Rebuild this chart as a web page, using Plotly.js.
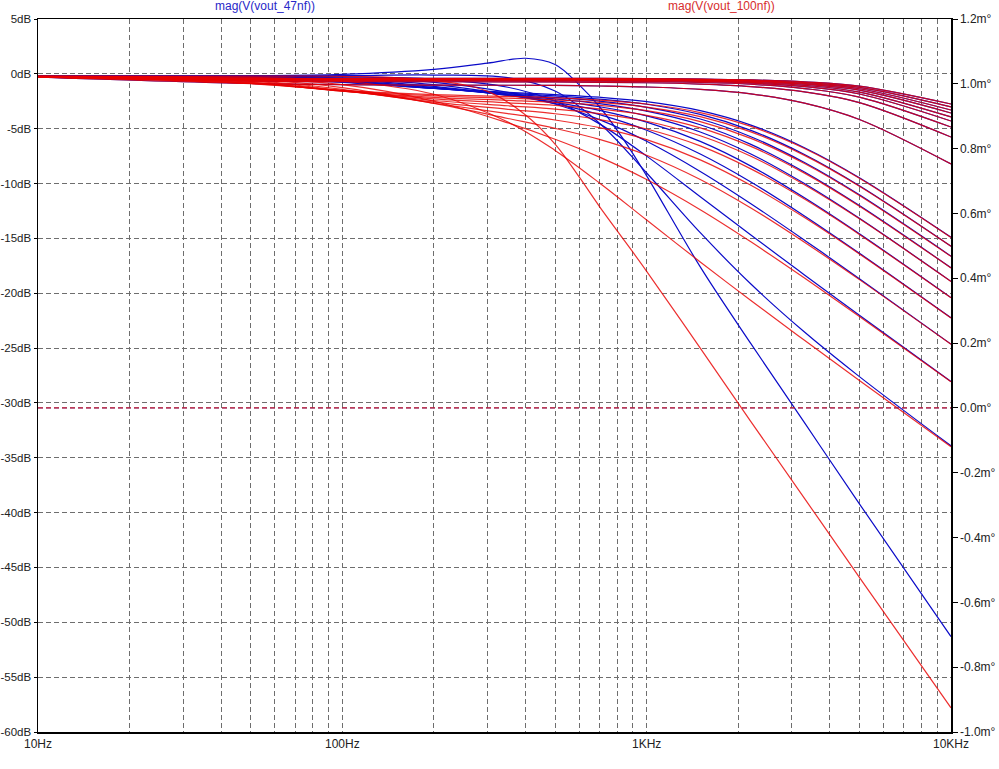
<!DOCTYPE html>
<html><head><meta charset="utf-8">
<script src="https://cdn.plot.ly/plotly-3.0.1.min.js"></script>
<style>html,body{margin:0;padding:0;background:#fff;} #chart{width:999px;height:769px;}</style>
</head><body><div id="chart"></div>
<script>
// Frequency grids (Hz)
const freq   = [10, 50, 100, 200, 350, 500, 700, 1000, 1500, 2200, 3300, 5000, 10000];
const freqS0 = [10, 50, 100, 200, 300, 400, 500, 600, 700, 850, 1000, 1500, 2200, 3300, 5000, 10000];

// mag(V(vout_47nf)) in dB, one array per step
const blue_s0  = [-0.21, -0.17, -0.05, 0.40, 0.98, 1.42, 0.85, -1.00, -3.00, -6.20, -9.30, -17.60, -24.60, -31.80, -39.20, -51.30];
const blue_s1  = [-0.21, -0.20, -0.17, -0.11, -0.35, -1.57, -4.50, -9.04, -14.48, -19.16, -23.54, -27.60, -33.91];
const blue_s2  = [-0.21, -0.22, -0.27, -0.48, -1.22, -2.49, -4.56, -7.50, -11.20, -14.70, -18.33, -22.00, -28.05];
const blue_s3  = [-0.21, -0.25, -0.36, -0.77, -1.69, -2.75, -4.17, -6.15, -8.90, -11.84, -15.16, -18.67, -24.64];
const blue_s4  = [-0.21, -0.27, -0.44, -0.99, -1.90, -2.72, -3.72, -5.14, -7.31, -9.86, -12.95, -16.35, -22.24];
const blue_s5  = [-0.21, -0.29, -0.52, -1.14, -1.97, -2.60, -3.33, -4.40, -6.16, -8.41, -11.30, -14.58, -20.40];
const blue_s6  = [-0.21, -0.32, -0.59, -1.24, -1.95, -2.44, -3.00, -3.83, -5.30, -7.30, -10.00, -13.17, -18.92];
const blue_s7  = [-0.21, -0.34, -0.64, -1.29, -1.90, -2.28, -2.72, -3.40, -4.64, -6.43, -8.95, -12.01, -17.68];
const blue_s8  = [-0.21, -0.36, -0.69, -1.32, -1.83, -2.14, -2.49, -3.05, -4.12, -5.73, -8.08, -11.03, -16.62];
const blue_s9  = [-0.22, -0.38, -0.73, -1.33, -1.76, -2.01, -2.30, -2.77, -3.70, -5.15, -7.35, -10.20, -15.71];
const blue_s10 = [-0.22, -0.39, -0.77, -1.32, -1.68, -1.89, -2.13, -2.54, -3.36, -4.67, -6.73, -9.47, -14.90];

// mag(V(vout_100nf)) in dB, one array per step
const red_s0  = [-0.22, -0.21, -0.23, -0.60, -1.60, -3.75, -6.40, -9.40, -12.10, -15.30, -18.00, -25.00, -31.70, -38.70, -45.90, -57.80];
const red_s1  = [-0.21, -0.32, -0.65, -1.86, -4.39, -6.98, -9.95, -13.33, -17.15, -20.66, -24.29, -27.95, -34.00];
const red_s2  = [-0.22, -0.43, -0.99, -2.50, -4.47, -5.96, -7.59, -9.63, -12.38, -15.31, -18.62, -22.12, -28.08];
const red_s3  = [-0.23, -0.52, -1.25, -2.70, -4.07, -4.97, -5.98, -7.42, -9.63, -12.23, -15.35, -18.76, -24.66];
const red_s4  = [-0.23, -0.61, -1.41, -2.68, -3.62, -4.21, -4.91, -6.00, -7.84, -10.16, -13.10, -16.42, -22.26];
const red_s5  = [-0.24, -0.68, -1.51, -2.57, -3.23, -3.64, -4.17, -5.03, -6.57, -8.66, -11.42, -14.64, -20.42];
const red_s6  = [-0.24, -0.75, -1.56, -2.43, -2.91, -3.21, -3.62, -4.32, -5.64, -7.51, -10.11, -13.22, -18.93];
const red_s7  = [-0.25, -0.80, -1.58, -2.28, -2.64, -2.87, -3.20, -3.78, -4.92, -6.61, -9.05, -12.06, -17.69];
const red_s8  = [-0.25, -0.84, -1.57, -2.14, -2.41, -2.60, -2.87, -3.36, -4.35, -5.88, -8.17, -11.08, -16.64];
const red_s9  = [-0.25, -0.88, -1.54, -2.01, -2.22, -2.38, -2.60, -3.03, -3.90, -5.29, -7.43, -10.24, -15.72];
const red_s10 = [-0.26, -0.90, -1.51, -1.89, -2.06, -2.19, -2.39, -2.75, -3.53, -4.79, -6.80, -9.51, -14.91];

// high-resistance steps (nearly identical for both capacitors)
const top_a1 = [-0.30, -0.40, -0.40, -0.41, -0.41, -0.41, -0.42, -0.44, -0.47, -0.55, -0.73, -1.12, -2.75];
const top_a2 = [-0.30, -0.42, -0.43, -0.43, -0.44, -0.44, -0.45, -0.47, -0.51, -0.60, -0.80, -1.24, -3.02];
const top_a3 = [-0.30, -0.45, -0.46, -0.46, -0.47, -0.47, -0.48, -0.50, -0.55, -0.65, -0.88, -1.36, -3.30];
const top_a4 = [-0.30, -0.48, -0.49, -0.49, -0.50, -0.50, -0.51, -0.53, -0.59, -0.70, -0.95, -1.49, -3.57];
const top_a5 = [-0.30, -0.51, -0.52, -0.53, -0.53, -0.54, -0.55, -0.58, -0.64, -0.77, -1.05, -1.66, -3.93];
const top_a6 = [-0.30, -0.54, -0.56, -0.57, -0.57, -0.58, -0.59, -0.62, -0.69, -0.84, -1.17, -1.84, -4.30];
const top_a7 = [-0.30, -0.59, -0.62, -0.63, -0.63, -0.64, -0.66, -0.69, -0.78, -0.95, -1.34, -2.12, -4.85];
const top_a8 = [-0.31, -0.67, -0.71, -0.72, -0.73, -0.74, -0.77, -0.81, -0.93, -1.16, -1.65, -2.62, -5.76];
const top_a9 = [-0.31, -0.88, -0.98, -1.03, -1.04, -1.06, -1.11, -1.20, -1.42, -1.83, -2.67, -4.16, -8.22];

// phase (m°)
const phaseFreq = [10, 10000];
const phase47  = [0, 0];
const phase100 = [0, 0];

// axis ticks
const xTickVals = [10,20,30,40,50,60,70,80,90,100,200,300,400,500,600,700,800,900,1000,2000,3000,4000,5000,6000,7000,8000,9000,10000];
const xTickText = ['10Hz','','','','','','','','','100Hz','','','','','','','','','1KHz','','','','','','','','','10KHz'];
const dbTickVals = [5,0,-5,-10,-15,-20,-25,-30,-35,-40,-45,-50,-55,-60];
const dbTickText = ['5dB','0dB','-5dB','-10dB','-15dB','-20dB','-25dB','-30dB','-35dB','-40dB','-45dB','-50dB','-55dB','-60dB'];
const degTickVals = [1.2,1.0,0.8,0.6,0.4,0.2,0.0,-0.2,-0.4,-0.6,-0.8,-1.0];
const degTickText = ['1.2m°','1.0m°','0.8m°','0.6m°','0.4m°','0.2m°','0.0m°','-0.2m°','-0.4m°','-0.6m°','-0.8m°','-1.0m°'];

const BLUE = 'rgb(10,10,200)';
const RED = 'rgba(232,0,0,0.82)';

const traces = [];
function addLine(x, y, color) {
  traces.push({x: x, y: y, type: 'scatter', mode: 'lines',
    line: {color: color, width: 1.2, shape: 'spline', smoothing: 1},
    hoverinfo: 'skip'});
}
const topSet = [top_a1, top_a2, top_a3, top_a4, top_a5, top_a6, top_a7, top_a8, top_a9];
const blueSet = [blue_s1, blue_s2, blue_s3, blue_s4, blue_s5, blue_s6, blue_s7, blue_s8, blue_s9, blue_s10];
const redSet = [red_s1, red_s2, red_s3, red_s4, red_s5, red_s6, red_s7, red_s8, red_s9, red_s10];

addLine(freqS0, blue_s0, BLUE);
blueSet.forEach(s => addLine(freq, s, BLUE));
topSet.forEach(s => addLine(freq, s, BLUE));
traces.push({x: phaseFreq, y: phase47, yaxis: 'y2', type: 'scatter', mode: 'lines',
  line: {color: BLUE, width: 0.8, dash: '5px,3px'}, hoverinfo: 'skip'});

topSet.forEach(s => addLine(freq, s, RED));
redSet.forEach(s => addLine(freq, s, RED));
addLine(freqS0, red_s0, RED);
traces.push({x: phaseFreq, y: phase100, yaxis: 'y2', type: 'scatter', mode: 'lines',
  line: {color: 'rgb(205,35,40)', width: 1.4, dash: '5px,3px'}, hoverinfo: 'skip'});

const FONT = 'Liberation Sans, Arial, sans-serif';
const layout = {
  width: 999, height: 769,
  margin: {l: 38, r: 48, t: 19, b: 37, pad: 0},
  paper_bgcolor: '#ffffff', plot_bgcolor: '#ffffff',
  showlegend: false,
  font: {family: FONT, size: 12, color: '#222'},
  xaxis: {
    type: 'log', range: [1, 4],
    tickmode: 'array', tickvals: xTickVals, ticktext: xTickText,
    showgrid: true, gridcolor: '#6e6e6e', gridwidth: 1, griddash: '5px,3px',
    showline: true, linecolor: '#000', linewidth: 1.5, mirror: true,
    ticks: '', zeroline: false, tickfont: {family: FONT, size: 12, color: '#222'},
    automargin: false, fixedrange: true
  },
  yaxis: {
    range: [-60, 5],
    tickmode: 'array', tickvals: dbTickVals, ticktext: dbTickText,
    showgrid: true, gridcolor: '#6e6e6e', gridwidth: 1, griddash: '5px,3px',
    showline: true, linecolor: '#000', linewidth: 1.5, mirror: true,
    ticks: 'outside', ticklen: 3, tickcolor: '#000', tickwidth: 1,
    zeroline: false, tickfont: {family: FONT, size: 11.5, color: '#222'},
    automargin: false, fixedrange: true
  },
  yaxis2: {
    overlaying: 'y', side: 'right', range: [-1.0, 1.2],
    tickmode: 'array', tickvals: degTickVals, ticktext: degTickText,
    showgrid: false, zeroline: false,
    showline: true, linecolor: '#000', linewidth: 1.5,
    ticks: 'outside', ticklen: 5, tickcolor: '#000', tickwidth: 1,
    tickfont: {family: FONT, size: 12, color: '#222'},
    automargin: false, fixedrange: true
  },
  annotations: [
    {text: 'mag(V(vout_47nf))', xref: 'paper', yref: 'paper', x: 0.249, y: 1.0185,
     xanchor: 'center', yanchor: 'middle', showarrow: false,
     font: {family: FONT, size: 12, color: 'rgb(40,40,200)'}},
    {text: 'mag(V(vout_100nf))', xref: 'paper', yref: 'paper', x: 0.749, y: 1.0185,
     xanchor: 'center', yanchor: 'middle', showarrow: false,
     font: {family: FONT, size: 12, color: 'rgb(215,45,45)'}}
  ]
};
Plotly.newPlot('chart', traces, layout, {displayModeBar: false, staticPlot: true});
</script>
</body></html>
